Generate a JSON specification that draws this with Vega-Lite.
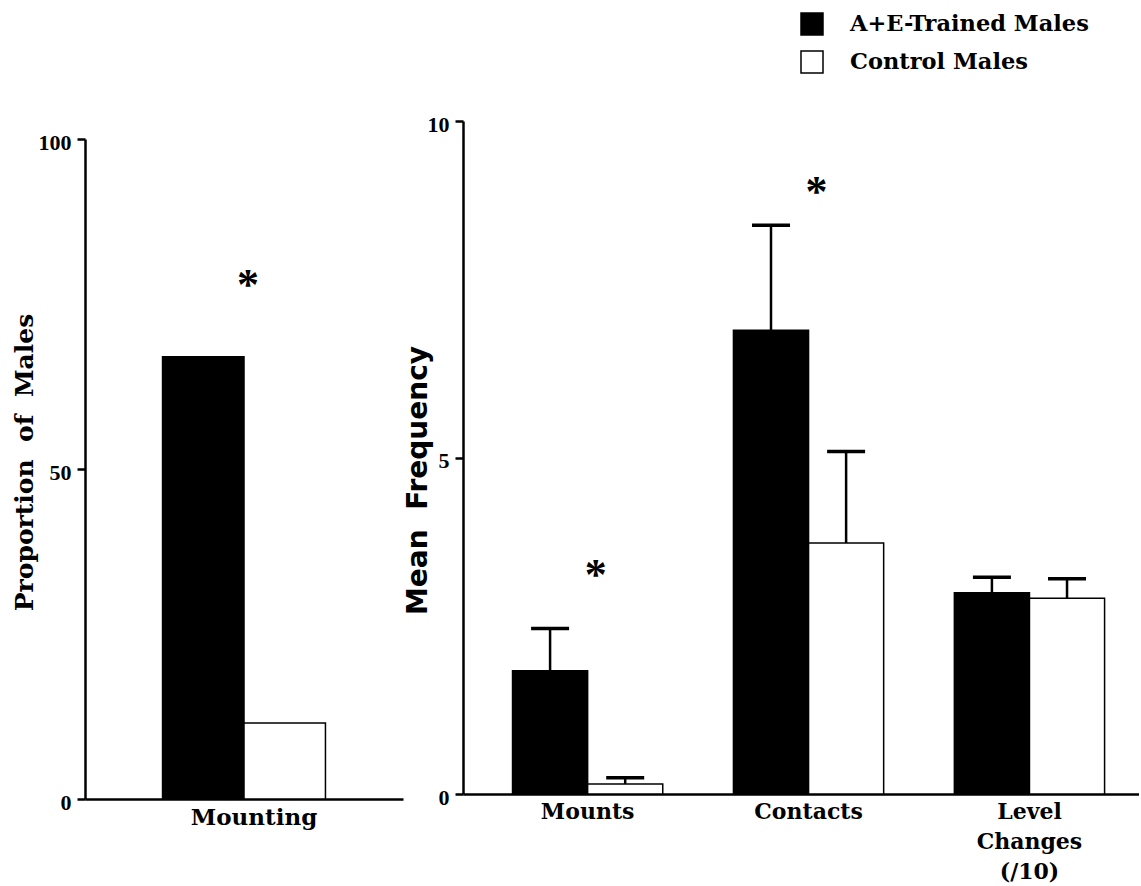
{
  "$schema": "https://vega.github.io/schema/vega-lite/v6.json",
  "padding": {"left": 12, "top": 12, "right": 0, "bottom": 2},
  "bounds": "flush",
  "spacing": 60,
  "resolve": {"scale": {"color": "shared", "xOffset": "independent"}},
  "config": {
    "view": {"stroke": null},
    "font": "DejaVu Serif",
    "axis": {
      "grid": false,
      "domainColor": "black",
      "domainWidth": 2.5,
      "tickColor": "black",
      "tickWidth": 2.5,
      "labelColor": "black",
      "titleColor": "black"
    },
    "legend": {
      "padding": 0,
      "labelFont": "DejaVu Serif",
      "labelFontWeight": "bold",
      "labelFontSize": 22.5,
      "labelColor": "black",
      "labelLimit": 400,
      "labelOffset": 26,
      "rowPadding": 10,
      "symbolType": "square",
      "symbolSize": 484,
      "symbolStrokeColor": "black",
      "symbolStrokeWidth": 1.5
    }
  },
  "hconcat": [
    {
      "width": 318,
      "height": 673,
      "data": {
        "values": [
          {"behavior": "Mounting", "group": "A+E-Trained Males", "proportion": 67},
          {"behavior": "Mounting", "group": "Control Males", "proportion": 11.5}
        ]
      },
      "layer": [
        {
          "mark": {"type": "bar", "stroke": "black", "strokeWidth": 1.5},
          "encoding": {
            "x": {
              "field": "behavior",
              "type": "nominal",
              "scale": {"paddingInner": 0, "paddingOuter": 0.476},
              "axis": {
                "title": null,
                "ticks": false,
                "tickSize": 0,
                "offset": 5,
                "labelAngle": 0,
                "labelFont": "DejaVu Serif",
                "labelFontWeight": "bold",
                "labelFontSize": 23,
                "labelPadding": 7,
                "labelOffset": 10
              }
            },
            "xOffset": {
              "field": "group",
              "type": "nominal",
              "sort": ["A+E-Trained Males", "Control Males"]
            },
            "y": {
              "field": "proportion",
              "type": "quantitative",
              "scale": {"domain": [0, 100], "range": [678, 18], "nice": false, "zero": true},
              "axis": {
                "values": [0, 50, 100],
                "format": "d",
                "tickSize": 8,
                "labelPadding": 6,
                "labelFont": "Liberation Serif",
                "labelFontWeight": "bold",
                "labelFontSize": 22,
                "labelOffset": 3,
                "title": "Proportion\u00a0 of\u00a0 Males",
                "titleFont": "DejaVu Serif",
                "titleFontWeight": "bold",
                "titleFontSize": 25,
                "titlePadding": 1,
                "titleY": 341
              }
            },
            "color": {
              "field": "group",
              "type": "nominal",
              "scale": {"domain": ["A+E-Trained Males", "Control Males"], "range": ["black", "white"]},
              "legend": {"orient": "none", "legendX": 715, "legendY": -109, "title": null}
            }
          }
        },
        {
          "data": {"values": [{"behavior": "Mounting", "level": 78.3, "sig": "*"}]},
          "mark": {"type": "text", "font": "Liberation Serif", "fontWeight": "bold", "fontSize": 44, "baseline": "middle", "dx": 4, "dy": 4, "color": "black"},
          "encoding": {
            "x": {"field": "behavior", "type": "nominal"},
            "y": {"field": "level", "type": "quantitative"},
            "text": {"field": "sig"}
          }
        }
      ]
    },
    {
      "width": 676,
      "height": 673,
      "data": {
        "values": [
          {"behavior": "Mounts", "group": "A+E-Trained Males", "mean": 1.83, "upper": 2.46},
          {"behavior": "Mounts", "group": "Control Males", "mean": 0.15, "upper": 0.24},
          {"behavior": "Contacts", "group": "A+E-Trained Males", "mean": 6.89, "upper": 8.45},
          {"behavior": "Contacts", "group": "Control Males", "mean": 3.73, "upper": 5.09},
          {"behavior": "Level Changes (/10)", "group": "A+E-Trained Males", "mean": 2.99, "upper": 3.22},
          {"behavior": "Level Changes (/10)", "group": "Control Males", "mean": 2.91, "upper": 3.2}
        ]
      },
      "layer": [
        {
          "mark": {"type": "bar", "stroke": "black", "strokeWidth": 1.5},
          "encoding": {
            "x": {
              "field": "behavior",
              "type": "nominal",
              "sort": ["Mounts", "Contacts", "Level Changes (/10)"],
              "scale": {"paddingInner": 0.32, "paddingOuter": 0.19, "align": 0.59},
              "axis": {
                "title": null,
                "ticks": false,
                "tickSize": 0,
                "labelAngle": 0,
                "labelFont": "DejaVu Serif",
                "labelFontWeight": "bold",
                "labelFontSize": 22,
                "labelPadding": 7,
                "labelLineHeight": 30,
                "labelOffset": 0,
                "labelExpr": "datum.value == 'Level Changes (/10)' ? ['Level', 'Changes', '(/10)'] : datum.label"
              }
            },
            "xOffset": {
              "field": "group",
              "type": "nominal",
              "sort": ["A+E-Trained Males", "Control Males"]
            },
            "y": {
              "field": "mean",
              "type": "quantitative",
              "scale": {"domain": [0, 10], "nice": false},
              "axis": {
                "values": [0, 5, 10],
                "format": "d",
                "tickSize": 8,
                "labelPadding": 6,
                "labelFont": "Liberation Serif",
                "labelFontWeight": "bold",
                "labelFontSize": 22,
                "labelOffset": 3,
                "title": "Mean\u00a0 Frequency",
                "titleFont": "DejaVu Sans",
                "titleFontWeight": "bold",
                "titleFontSize": 28,
                "titlePadding": -5,
                "titleY": 359
              }
            },
            "color": {
              "field": "group",
              "type": "nominal",
              "scale": {"domain": ["A+E-Trained Males", "Control Males"], "range": ["black", "white"]},
              "legend": {"orient": "none", "legendX": 715, "legendY": -109, "title": null}
            }
          }
        },
        {
          "mark": {"type": "rule", "color": "black", "strokeWidth": 2.5},
          "encoding": {
            "x": {"field": "behavior", "type": "nominal", "sort": ["Mounts", "Contacts", "Level Changes (/10)"]},
            "xOffset": {"field": "group", "type": "nominal", "sort": ["A+E-Trained Males", "Control Males"]},
            "y": {"field": "mean", "type": "quantitative"},
            "y2": {"field": "upper"}
          }
        },
        {
          "mark": {"type": "tick", "orient": "horizontal", "size": 38, "thickness": 3.5, "color": "black", "opacity": 1},
          "encoding": {
            "x": {"field": "behavior", "type": "nominal", "sort": ["Mounts", "Contacts", "Level Changes (/10)"]},
            "xOffset": {"field": "group", "type": "nominal", "sort": ["A+E-Trained Males", "Control Males"]},
            "y": {"field": "upper", "type": "quantitative"}
          }
        },
        {
          "data": {
            "values": [
              {"behavior": "Mounts", "level": 3.33, "sig": "*"},
              {"behavior": "Contacts", "level": 9.02, "sig": "*"}
            ]
          },
          "mark": {"type": "text", "font": "Liberation Serif", "fontWeight": "bold", "fontSize": 44, "baseline": "middle", "dx": 8, "dy": 6, "color": "black"},
          "encoding": {
            "x": {"field": "behavior", "type": "nominal", "sort": ["Mounts", "Contacts", "Level Changes (/10)"]},
            "y": {"field": "level", "type": "quantitative"},
            "text": {"field": "sig"}
          }
        }
      ]
    }
  ]
}
